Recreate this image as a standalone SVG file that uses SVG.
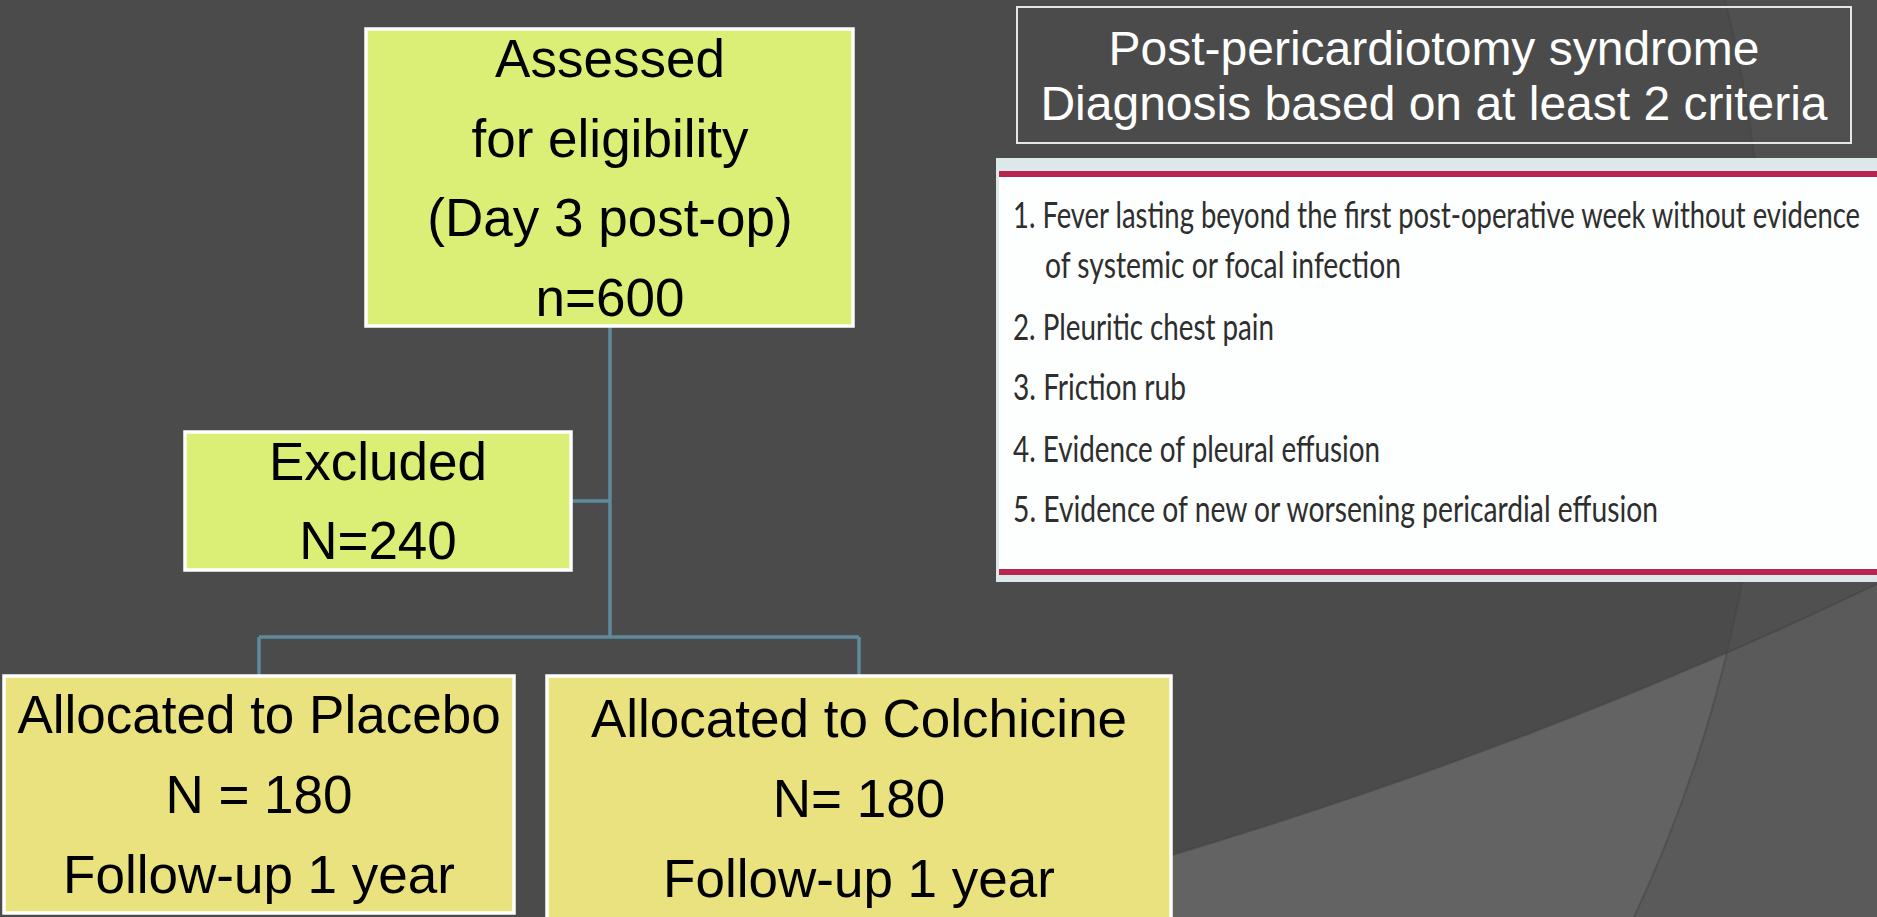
<svg xmlns="http://www.w3.org/2000/svg" width="1877" height="917" viewBox="0 0 1877 917">
<style>
.bg{fill:#4b4b4b}
.box1{fill:#dbef77;stroke:#ffffff;stroke-width:3.5}
.box2{fill:#e9e27f;stroke:#ffffff;stroke-width:3.5}
.t{font-family:"Liberation Sans",Arial,sans-serif;font-size:53px;fill:#000;text-anchor:middle}
.title{font-family:"Liberation Sans",Arial,sans-serif;font-size:48px;fill:#ffffff;text-anchor:middle}
.crit{font-family:Lato,"Open Sans",sans-serif;font-size:37px;fill:#2e2e2e}
.conn{stroke:#5e8b9c;stroke-width:3.5;fill:none}
.red{fill:#b8254f}
</style>
<defs>
<clipPath id="circ"><circle cx="384" cy="330" r="1381"/></clipPath>
</defs>
<rect class="bg" x="0" y="0" width="1877" height="917"/>
<g id="background-decor">
<rect x="0" y="0" width="1877" height="917" fill="#505050"/>
<circle cx="384" cy="330" r="1381" fill="#4b4b4b"/>
<path d="M1877,584 Q1546,743 1172,855 L900,940 L1877,940 Z" fill="#5a5a5a"/>
<path d="M1877,584 Q1546,743 1172,855 L900,940 L1877,940 Z" fill="#636363" clip-path="url(#circ)"/>
<path d="M1877,584 Q1546,743 1172,855 L900,940" fill="none" stroke="#454545" stroke-width="2" opacity="0.6"/>
<circle cx="384" cy="330" r="1381" fill="none" stroke="#444444" stroke-width="2" opacity="0.5"/>
</g>
<g id="connectors">
<line class="conn" x1="610" y1="326" x2="610" y2="637"/>
<line class="conn" x1="571" y1="501" x2="610" y2="501"/>
<line class="conn" x1="259" y1="637" x2="859" y2="637"/>
<line class="conn" x1="259" y1="637" x2="259" y2="676"/>
<line class="conn" x1="859" y1="637" x2="859" y2="676"/>
</g>
<g id="assessed">
<rect class="box1" x="366" y="29" width="487" height="297"/>
<text class="t" x="610" y="77">Assessed</text>
<text class="t" x="610" y="157">for eligibility</text>
<text class="t" x="610" y="236">(Day 3 post-op)</text>
<text class="t" x="610" y="316">n=600</text>
</g>
<g id="excluded">
<rect class="box1" x="185" y="432" width="386" height="138"/>
<text class="t" x="378" y="480">Excluded</text>
<text class="t" x="378" y="559">N=240</text>
</g>
<g id="placebo">
<rect class="box2" x="4" y="676" width="510" height="237"/>
<text class="t" x="259" y="733">Allocated to Placebo</text>
<text class="t" x="259" y="813">N = 180</text>
<text class="t" x="259" y="893">Follow-up 1 year</text>
</g>
<g id="colchicine">
<rect class="box2" x="547" y="676" width="624" height="260"/>
<text class="t" x="859" y="737">Allocated to Colchicine</text>
<text class="t" x="859" y="817">N= 180</text>
<text class="t" x="859" y="897">Follow-up 1 year</text>
</g>
<g id="title">
<rect x="1017" y="7" width="834" height="136" fill="none" stroke="#e6e6e6" stroke-width="2"/>
<text class="title" x="1434" y="65">Post-pericardiotomy syndrome</text>
<text class="title" x="1434" y="120">Diagnosis based on at least 2 criteria</text>
</g>
<g id="criteria">
<rect x="996" y="158" width="881" height="424" fill="#dce8ea"/>
<rect x="999" y="177" width="878" height="395" fill="#fdfefe"/>
<rect class="red" x="999" y="171" width="878" height="6"/>
<rect class="red" x="999" y="569" width="878" height="6"/>
<text class="crit" x="1013" y="228" textLength="847" lengthAdjust="spacingAndGlyphs">1. Fever lasting beyond the first post-operative week without evidence</text>
<text class="crit" x="1045" y="278" textLength="356" lengthAdjust="spacingAndGlyphs">of systemic or focal infection</text>
<text class="crit" x="1013" y="340" textLength="261" lengthAdjust="spacingAndGlyphs">2. Pleuritic chest pain</text>
<text class="crit" x="1013" y="400" textLength="173" lengthAdjust="spacingAndGlyphs">3. Friction rub</text>
<text class="crit" x="1013" y="462" textLength="367" lengthAdjust="spacingAndGlyphs">4. Evidence of pleural effusion</text>
<text class="crit" x="1013" y="522" textLength="645" lengthAdjust="spacingAndGlyphs">5. Evidence of new or worsening pericardial effusion</text>
</g>
</svg>
